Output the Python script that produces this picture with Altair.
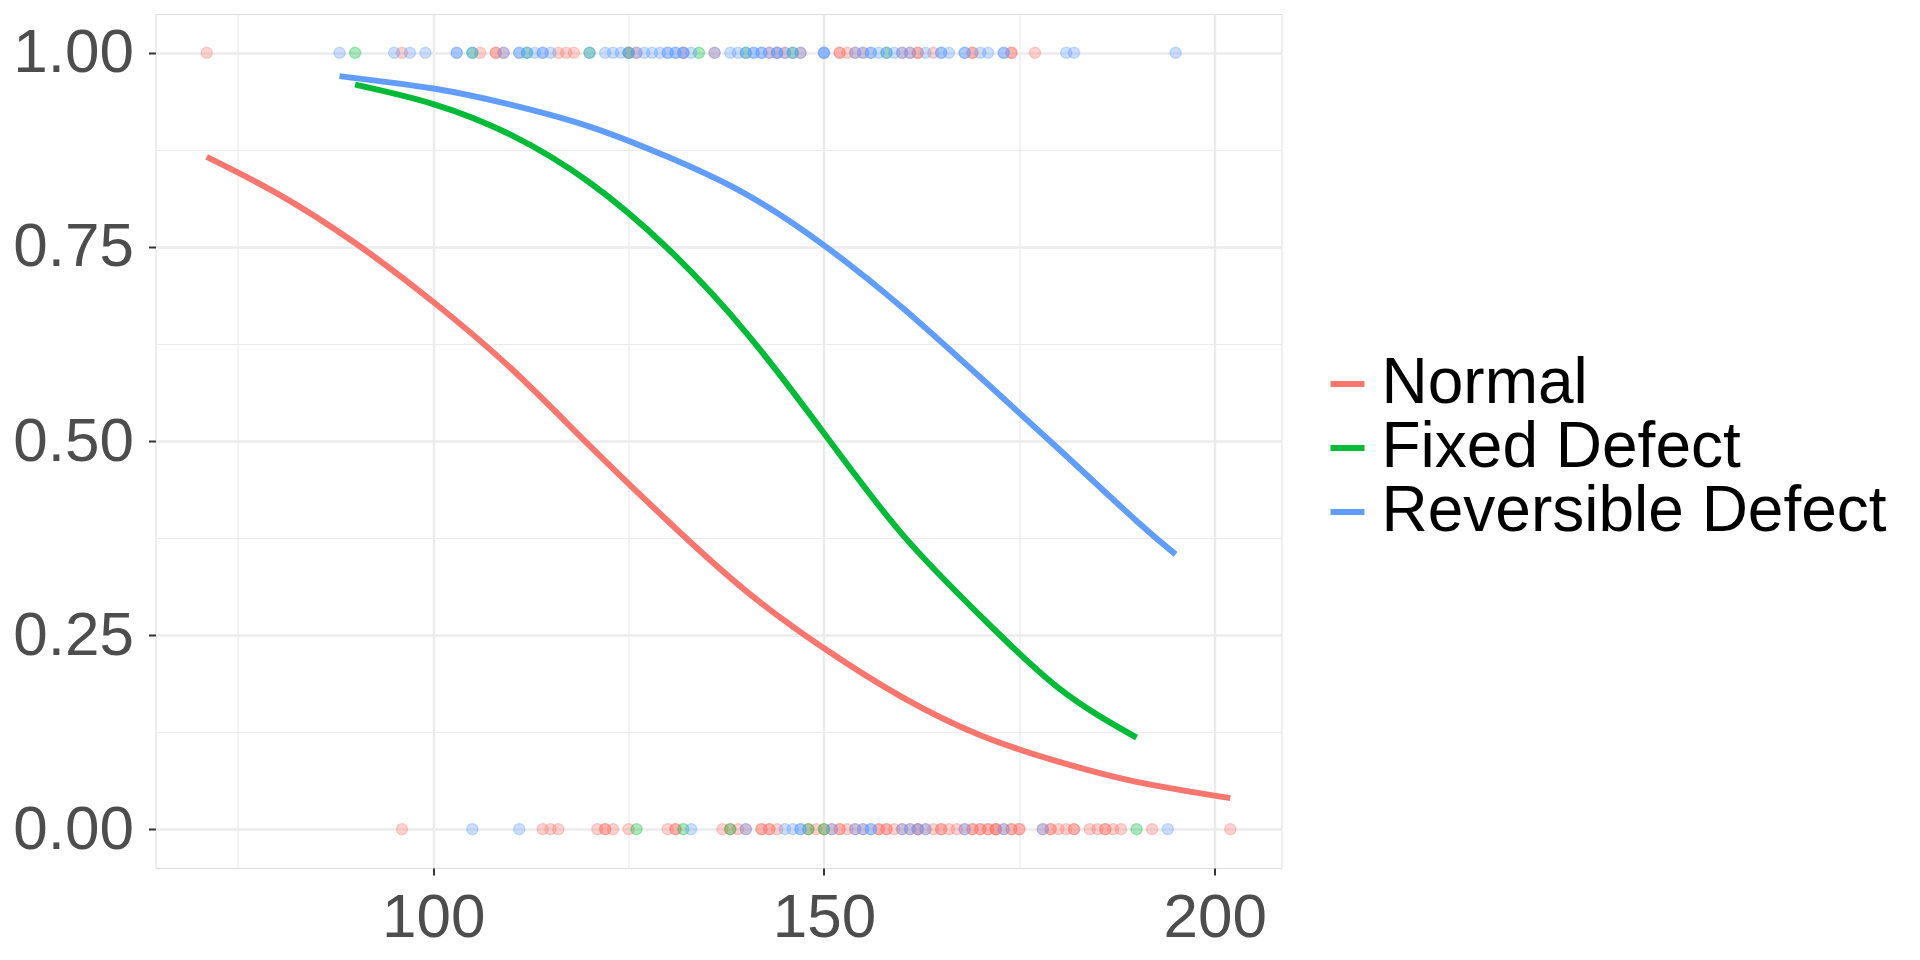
import altair as alt
import pandas as pd

groups = ["Normal", "Fixed Defect", "Reversible Defect"]
colors = ["#F8766D", "#00BA38", "#619CFF"]

# observed points, outcome = 1
normal_x_1 = [71, 96, 106, 108, 108, 109, 116, 117, 118, 125, 126, 132, 136, 143, 144, 145, 147,
              152, 152, 153, 154, 155, 160, 161, 162, 162, 164, 169, 169, 174, 174, 177]
fixed_x_1 = [90, 105, 112, 120, 125, 134, 140, 146, 158]
rev_x_1 = [88, 95, 97, 99, 103, 103, 105, 109, 111, 111, 112, 113, 114, 114, 115, 120, 122, 123,
           124, 125, 126, 127, 128, 129, 130, 130, 131, 131, 132, 132, 133, 136, 138, 139, 140,
           141, 141, 142, 142, 143, 144, 144, 145, 146, 147, 150, 150, 150, 154, 155, 156, 156,
           157, 158, 159, 160, 161, 163, 165, 165, 166, 168, 168, 170, 171, 173, 173, 181, 182, 195]

# observed points, outcome = 0
normal_x_0 = [96, 114, 115, 116, 121, 122, 122, 123, 125, 130, 131, 131, 137, 138, 139, 140, 142,
              142, 143, 143, 144, 148, 149, 150, 151, 152, 152, 153, 154, 155, 157, 157, 158, 158,
              159, 160, 161, 162, 162, 163, 164, 165, 165, 166, 167, 168, 169, 169, 170, 170, 171,
              171, 172, 172, 172, 173, 174, 174, 175, 175, 178, 179, 179, 180, 181, 182, 182, 184,
              185, 186, 186, 187, 188, 192, 202]
fixed_x_0 = [126, 132, 138, 148, 150, 190]
rev_x_0 = [105, 111, 133, 140, 145, 146, 147, 147, 151, 154, 155, 156, 156, 160, 161, 162, 163,
           168, 173, 178, 194]

# fitted curves
normal_curve_x = [71, 80, 90, 100, 110, 120, 130, 140, 150, 160, 170, 180, 190, 202]
normal_curve_y = [0.866, 0.819, 0.755, 0.679, 0.593, 0.494, 0.397, 0.307, 0.233, 0.170, 0.121, 0.087, 0.061, 0.040]
fixed_curve_x = [90, 100, 110, 120, 130, 140, 150, 160, 170, 180, 190]
fixed_curve_y = [0.959, 0.934, 0.894, 0.833, 0.748, 0.640, 0.510, 0.380, 0.275, 0.182, 0.118]
rev_curve_x = [88, 100, 110, 120, 130, 140, 150, 160, 170, 180, 190, 195]
rev_curve_y = [0.970, 0.954, 0.933, 0.905, 0.866, 0.818, 0.752, 0.672, 0.582, 0.490, 0.397, 0.354]

rows = []
for g, xs1, xs0 in [(groups[0], normal_x_1, normal_x_0),
                    (groups[1], fixed_x_1, fixed_x_0),
                    (groups[2], rev_x_1, rev_x_0)]:
    for v in xs1:
        rows.append({"x": v, "y": 1.0, "g": g})
    for v in xs0:
        rows.append({"x": v, "y": 0.0, "g": g})
points = pd.DataFrame(rows)

crow = []
for g, cx, cy in [(groups[0], normal_curve_x, normal_curve_y),
                  (groups[1], fixed_curve_x, fixed_curve_y),
                  (groups[2], rev_curve_x, rev_curve_y)]:
    for a, b in zip(cx, cy):
        crow.append({"x": a, "y": b, "g": g})
curves = pd.DataFrame(crow)

x_scale = alt.Scale(domain=[64.45, 208.55], nice=False, zero=False)
y_scale = alt.Scale(domain=[-0.05, 1.05], nice=False, zero=False)
color_scale = alt.Scale(domain=groups, range=colors)

LABEL_SIZE = 62
major_x = "datum.value % 50 === 0"
major_y = "round(datum.value * 8) % 2 === 0"

x_axis = alt.Axis(
    values=[75, 100, 125, 150, 175, 200], title=None, domain=False,
    labelExpr=f"{major_x} ? datum.label : ''", labelFlush=False,
    labelFontSize=LABEL_SIZE, labelColor="#4D4D4D", labelFont="Liberation Sans",
    labelPadding=12,
    tickSize=7, tickColor="#333333", tickWidth=2,
    tickOpacity={"condition": {"test": major_x, "value": 1}, "value": 0},
    gridColor="#EBEBEB",
    gridWidth={"condition": {"test": major_x, "value": 2.4}, "value": 1.2},
)
y_axis = alt.Axis(
    values=[0, 0.125, 0.25, 0.375, 0.5, 0.625, 0.75, 0.875, 1.0], title=None, domain=False,
    format=".2f", labelExpr=f"{major_y} ? datum.label : ''", labelFlush=False,
    labelFontSize=LABEL_SIZE, labelColor="#4D4D4D", labelFont="Liberation Sans",
    labelPadding=15,
    tickSize=7, tickColor="#333333", tickWidth=2,
    tickOpacity={"condition": {"test": major_y, "value": 1}, "value": 0},
    gridColor="#EBEBEB",
    gridWidth={"condition": {"test": major_y, "value": 2.4}, "value": 1.2},
)

legend = alt.Legend(
    title=None, orient="none", legendX=1160, legendY=338, padding=0,
    symbolType="stroke", symbolStrokeWidth=6, symbolSize=1156,
    labelFontSize=64, labelColor="black", labelFont="Liberation Sans",
    labelOffset=2, rowPadding=-3, labelLimit=800,
)

pts = alt.Chart(points).mark_circle(size=125, fillOpacity=0.32, strokeOpacity=0.32, strokeWidth=1.3).encode(
    x=alt.X("x:Q", scale=x_scale, axis=x_axis),
    y=alt.Y("y:Q", scale=y_scale, axis=y_axis),
    color=alt.Color("g:N", scale=color_scale, sort=groups, legend=legend),
    stroke=alt.Stroke("g:N", scale=color_scale, sort=groups, legend=None),
)

lines = alt.Chart(curves).mark_line(strokeWidth=6, interpolate="natural").encode(
    x=alt.X("x:Q", scale=x_scale, axis=x_axis),
    y=alt.Y("y:Q", scale=y_scale, axis=y_axis),
    color=alt.Color("g:N", scale=color_scale, sort=groups, legend=legend),
)

chart = alt.layer(pts, lines).properties(
    width=1126, height=854,
    padding={"left": 4.5, "top": 6, "right": 0, "bottom": 0},
).configure_view(
    stroke="#333333", strokeWidth=1.5, fill="white"
).configure(
    background="white"
)

chart.save("out.html", embed_options={"renderer": "svg", "actions": False})
